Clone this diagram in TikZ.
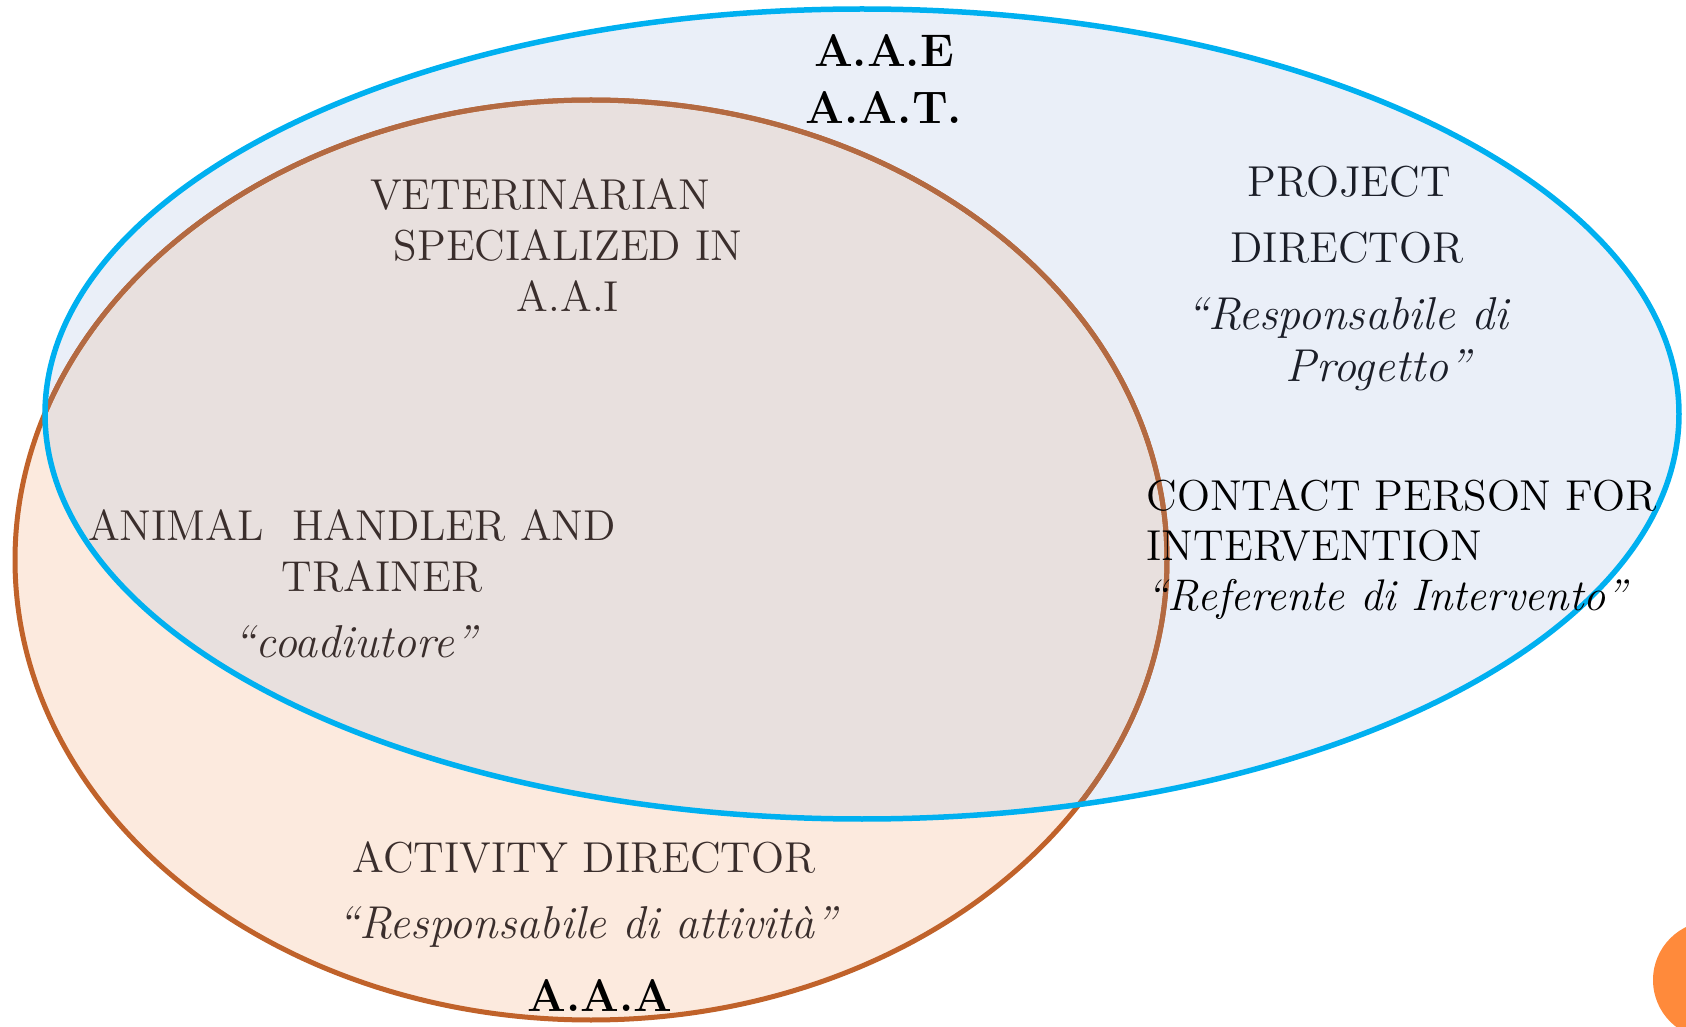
\documentclass[tikz,border=0pt]{standalone}
\usepackage{fontspec}
\definecolor{bluefill}{HTML}{EAEFF8}
\definecolor{blueline}{HTML}{00B0F0}
\definecolor{orangefill}{HTML}{FCEADE}
\definecolor{overlapfill}{HTML}{E8E0DE}
\definecolor{orangeline}{HTML}{C0622A}
\definecolor{orangeinner}{HTML}{B36A42}
\definecolor{dotorange}{HTML}{FF8A3B}
\definecolor{rolebrown}{HTML}{3A2E2C}
\definecolor{projnavy}{HTML}{1B1E28}
\begin{document}
\begin{tikzpicture}[x=0.1mm,y=-0.1mm,
        role/.style={anchor=base,inner sep=0pt,text=rolebrown,
            font=\fontsize{12.3}{14}\selectfont},
        quote/.style={role,font=\fontsize{13.1}{15}\selectfont\itshape},
        tag/.style={anchor=base,inner sep=0pt,text=black,
            font=\fontsize{13}{16}\selectfont\bfseries}]
                            \useasboundingbox (0,0) rectangle (1686,1027);

                            \fill[orangefill] (591,560) ellipse (576 and 460);
                            \fill[bluefill] (862,414) ellipse (817 and 405);
                            \begin{scope}
                                \clip (862,414) ellipse (817 and 405);
                                \fill[overlapfill] (591,560) ellipse (576 and 460);
                            \end{scope}
                            \draw[orangeline,line width=0.5mm] (591,560) ellipse (576 and 460);
                            \begin{scope}
                                \clip (862,414) ellipse (817 and 405);
                                \draw[orangeinner,line width=0.5mm] (591,560) ellipse (576 and 460);
                            \end{scope}
                            \draw[blueline,line width=0.55mm] (862,414) ellipse (817 and 405);

                            \begin{scope}
                                \clip (0,0) rectangle (1686,1027);
                                \fill[dotorange] (1712,980) circle (59);
                            \end{scope}

                            \node[tag] (aae) at (884,67) {A.A.E};
                            \node[tag] (aat) at (884,124) {A.A.T.};
                            \node[tag] (aaa) at (600,1011) {A.A.A};

                            \node[role] (vet1) at (540,210) {VETERINARIAN};
                            \node[role] (vet2) at (568,261) {SPECIALIZED IN};
                            \node[role] (vet3) at (568,312) {A.A.I};

                            \node[role] (hand1) at (352,541) {ANIMAL\ \ HANDLER AND};
                            \node[role] (hand2) at (382,591) {TRAINER};
                            \node[quote] (hand3) at (355,658) {“coadiutore”};

                            \node[role] (act1) at (584,872) {ACTIVITY DIRECTOR};
                            \node[quote] (act2) at (587,938) {“Responsabile di attività”};

                            \node[role,text=projnavy] (proj1) at (1349,197) {PROJECT};
                            \node[role,text=projnavy] (proj2) at (1347,263) {DIRECTOR};
                            \node[quote,text=projnavy] (proj3) at (1347,330) {“Responsabile di};
                            \node[quote,text=projnavy] (proj4) at (1378,381) {Progetto”};

                            \node[role,anchor=base west,text=black] (cont1) at (1146,511) {CONTACT PERSON FOR};
                            \node[role,anchor=base west,text=black] (cont2) at (1146,561) {INTERVENTION};
                            \node[quote,anchor=base west,text=black,font=\fontsize{12.6}{15}\selectfont\itshape] (cont3) at (1146,611) {“Referente di Intervento”};

                        \end{tikzpicture}
\end{document}
